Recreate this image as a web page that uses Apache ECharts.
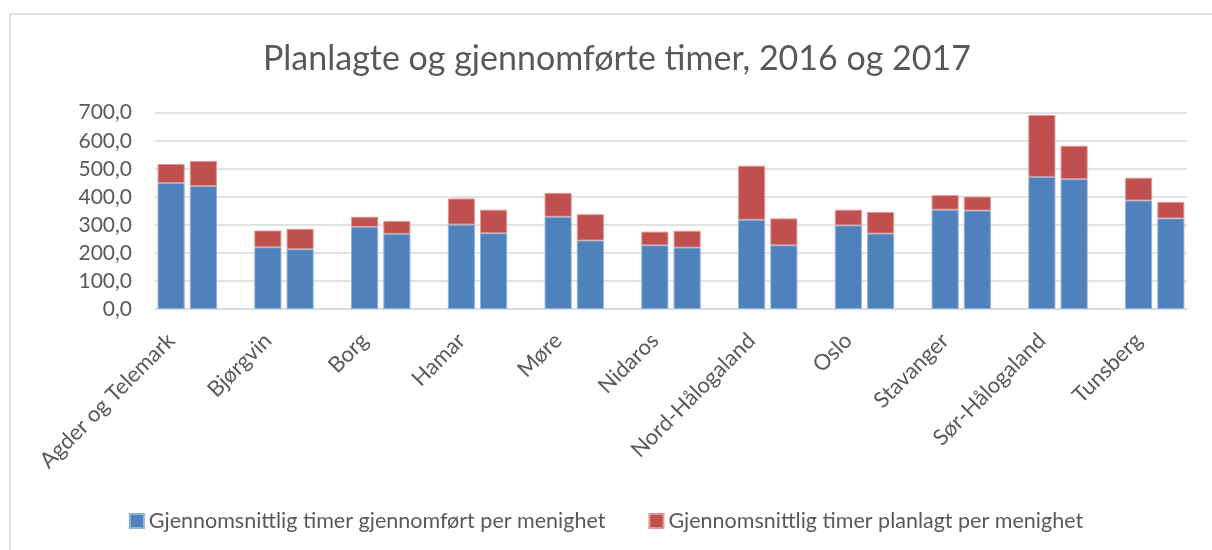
<!DOCTYPE html>
<html>
<head>
<meta charset="utf-8">
<title>Planlagte og gjennomførte timer</title>
<script src="https://cdn.jsdelivr.net/npm/echarts@6/dist/echarts.min.js"></script>
<style>
body{margin:0;padding:0;background:#fff;}
#chart{width:1212px;height:550px;}
</style>
</head>
<body>
<div id="chart"></div>
<script>
// bispedømmer
var categories = ['Agder og Telemark','Bjørgvin','Borg','Hamar','Møre','Nidaros',
  'Nord-Hålogaland','Oslo','Stavanger','Sør-Hålogaland','Tunsberg'];
// blå del (gjennomført), 2016 og 2017
var done2016 = [449, 220, 293, 301, 329, 227, 318, 298, 354, 471, 387];
var done2017 = [438, 213, 268, 270, 244, 219, 227, 269, 351, 463, 323];
// rød del oppå (planlagt)
var plan2016 = [68, 60, 36, 93, 85, 49, 193, 56, 52, 221, 81];
var plan2017 = [90, 73, 46, 84, 94, 60, 96, 77, 50, 119, 59];
var yTicks = [0, 100, 200, 300, 400, 500, 600, 700];

// two bars per region, one empty slot between regions (like the excel sheet)
var slots = [], blue = [], red = [];
for (var i = 0; i < categories.length; i++) {
  slots.push(categories[i]); blue.push(done2016[i]); red.push(plan2016[i]);
  slots.push(i + 'b'); blue.push(done2017[i]); red.push(plan2017[i]);
  if (i < categories.length - 1) { slots.push(i + 'c'); blue.push(null); red.push(null); }
}

var txt = '#595959';
var font = 'Lato';
var myChart = echarts.init(document.getElementById('chart'));
myChart.setOption({
  animation: false,
  textStyle: {fontFamily: font},
  title: {
    text: 'Planlagte og gjennomførte timer, 2016 og 2017',
    left: 258, top: 37,
    textStyle: {fontFamily: font, fontSize: 34, fontWeight: 'normal', color: txt}
  },
  graphic: [{
    type: 'rect', shape: {x: 10, y: 14, width: 1250, height: 600},
    style: {fill: 'none', stroke: '#d9d9d9', lineWidth: 1.5}, silent: true
  }],
  legend: {
    top: 505, left: 'center',
    icon: 'rect', itemWidth: 14, itemHeight: 14, itemGap: 43,
    textStyle: {fontFamily: font, fontSize: 21.5, color: txt},
    data: ['Gjennomsnittlig timer gjennomført per menighet', 'Gjennomsnittlig timer planlagt per menighet']
  },
  grid: {left: 155, right: 25, top: 112.7, bottom: 241, containLabel: false, outerBoundsMode: 'none'},
  xAxis: {
    type: 'category', data: slots,
    axisLine: {lineStyle: {color: '#d9d9d9', width: 1.5}},
    axisTick: {show: false},
    axisLabel: {
      interval: 0, rotate: 45, margin: 28,
      fontFamily: font, fontSize: 22, color: txt,
      formatter: function (v, idx) { return idx % 3 === 0 ? v : ''; }
    }
  },
  yAxis: {
    type: 'value', min: yTicks[0], max: yTicks[yTicks.length - 1], interval: 100,
    axisLine: {show: false}, axisTick: {show: false},
    splitLine: {lineStyle: {color: '#d9d9d9', width: 1.5}},
    axisLabel: {
      margin: 23, fontFamily: font, fontSize: 21, color: txt,
      formatter: function (v) { return v.toFixed(1).replace('.', ','); }
    }
  },
  series: [
    {
      name: 'Gjennomsnittlig timer gjennomført per menighet',
      type: 'bar', stack: 'a', data: blue, barCategoryGap: '16%',
      itemStyle: {color: '#4F81BD', borderColor: '#8fb0d8', borderWidth: 1}
    },
    {
      name: 'Gjennomsnittlig timer planlagt per menighet',
      type: 'bar', stack: 'a', data: red, barCategoryGap: '16%',
      itemStyle: {color: '#C0504D', borderColor: '#dc9896', borderWidth: 1}
    }
  ]
});
</script>
</body>
</html>
